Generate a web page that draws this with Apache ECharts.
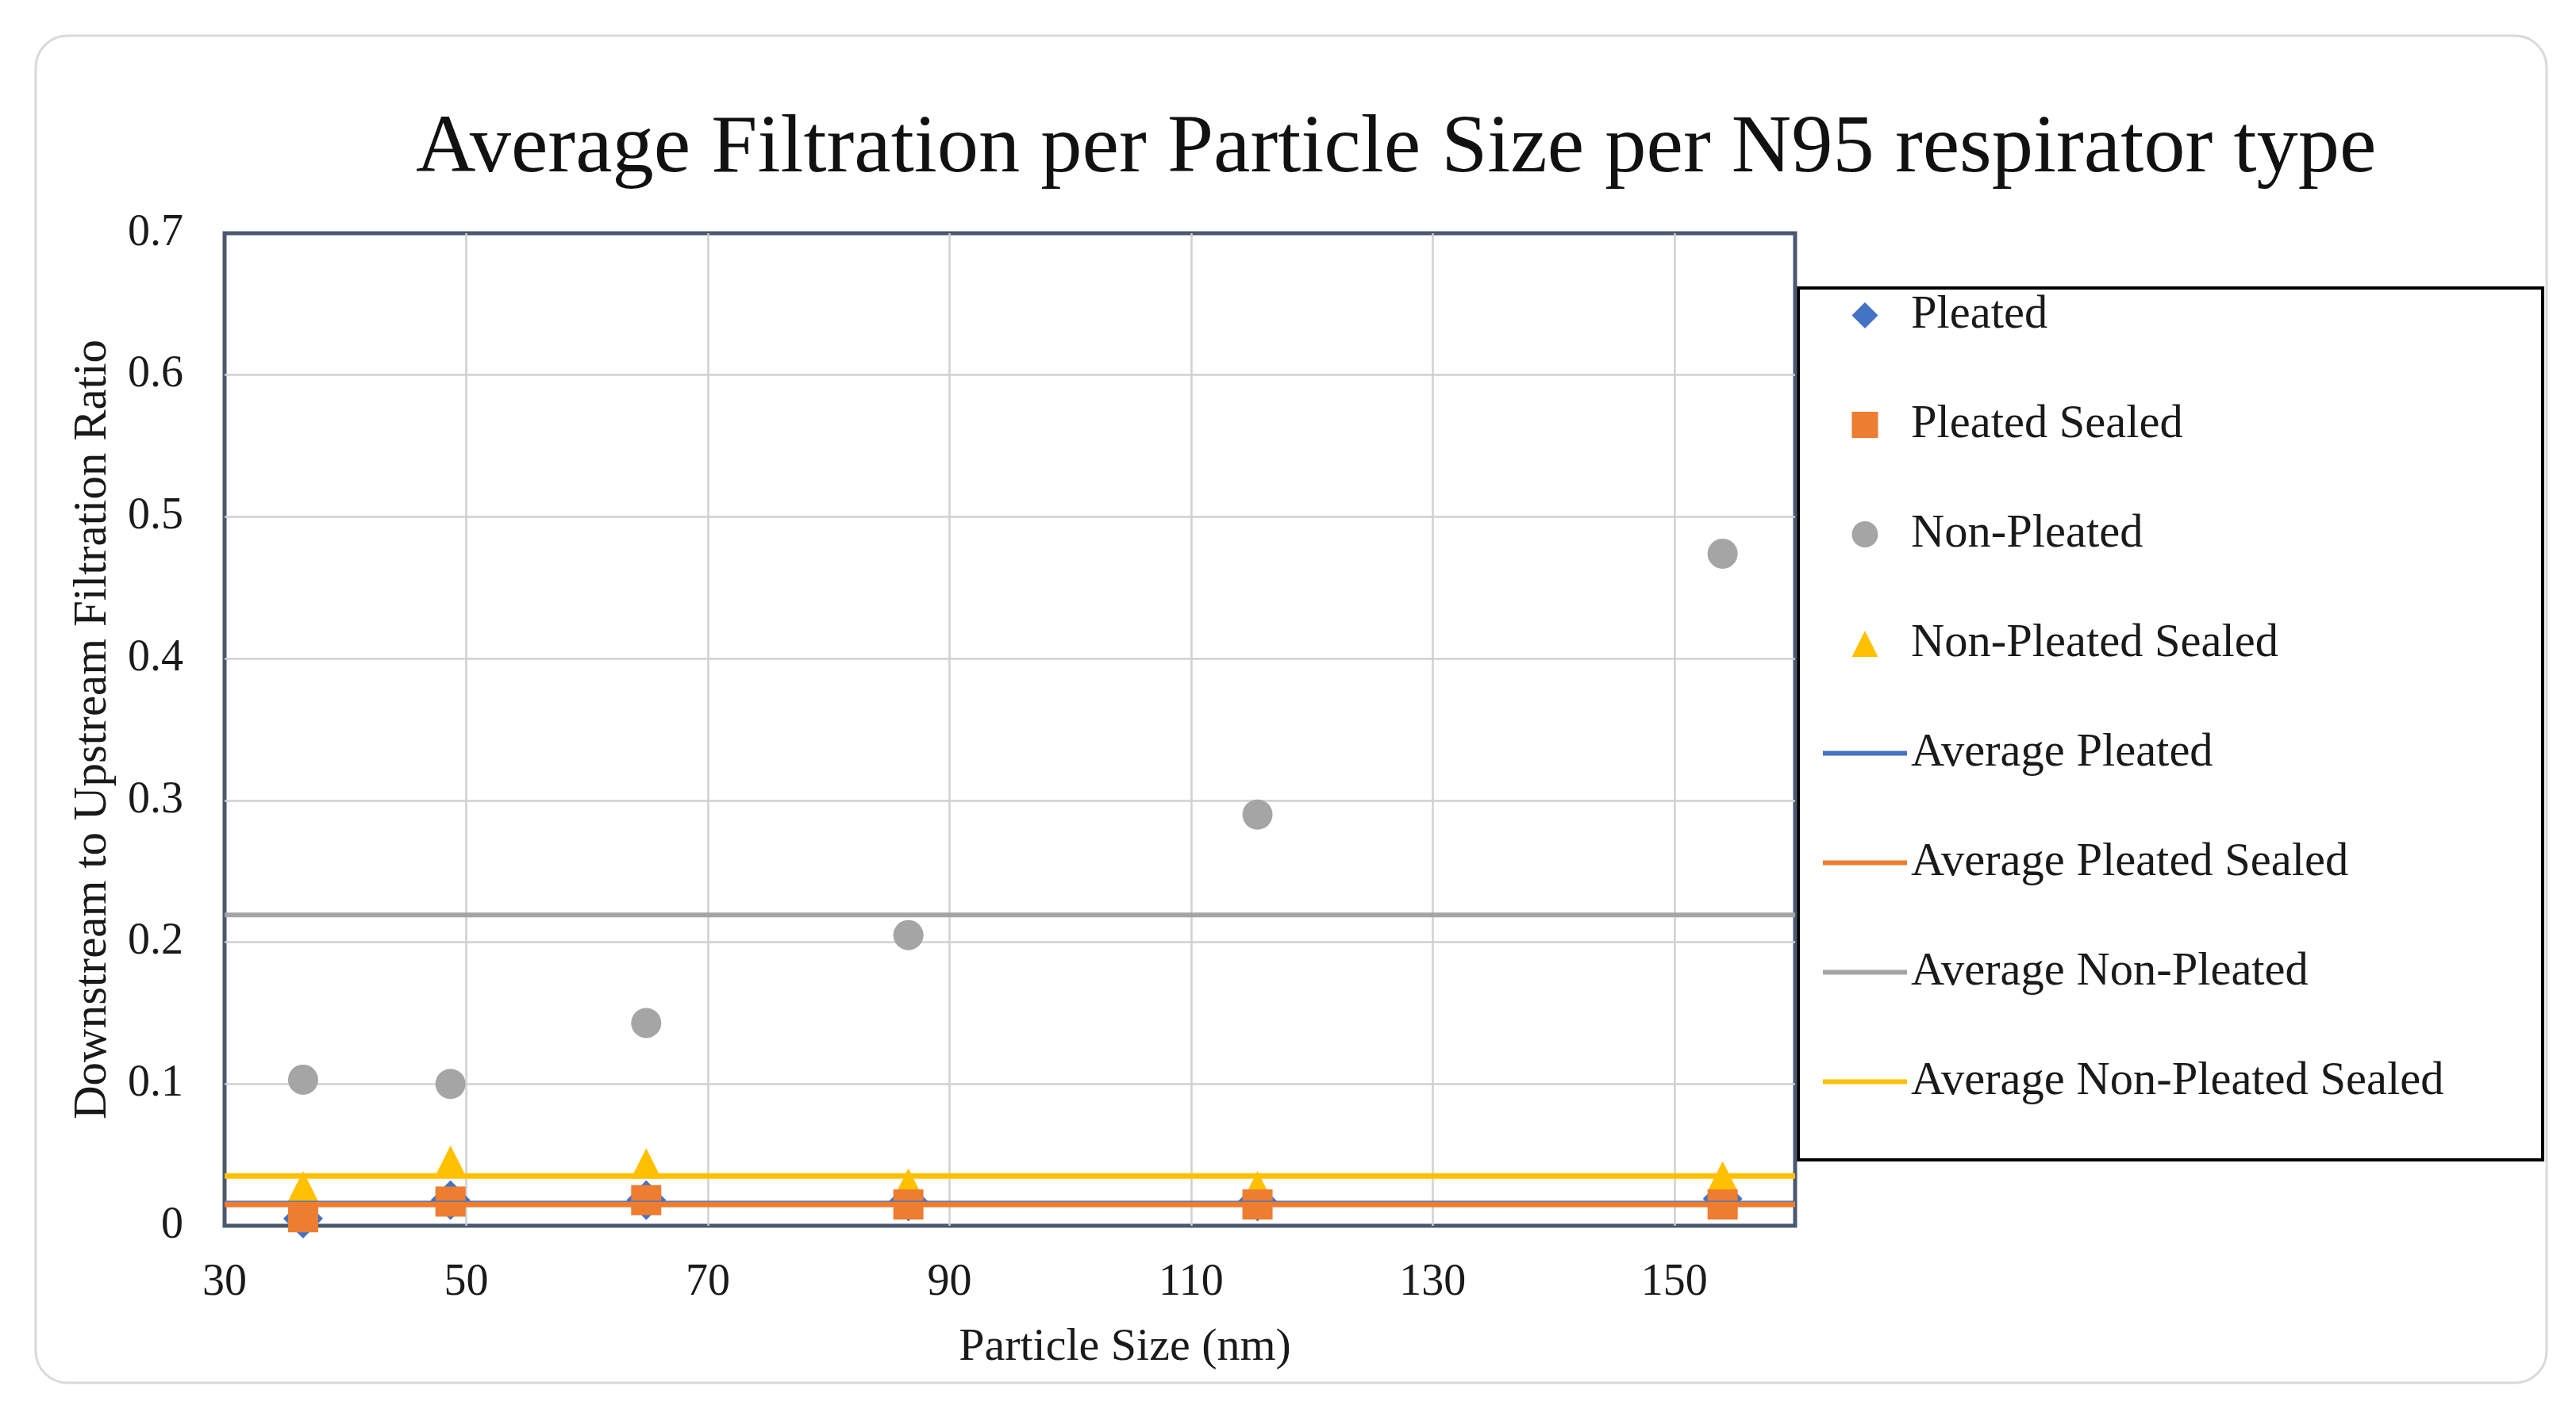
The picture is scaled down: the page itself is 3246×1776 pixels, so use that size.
<!DOCTYPE html>
<html>
<head>
<meta charset="utf-8">
<script src="https://cdn.jsdelivr.net/npm/echarts@6/dist/echarts.min.js"></script>
<style>
html,body{margin:0;padding:0;background:#fff;}
#chart{width:3246px;height:1776px;}
</style>
</head>
<body>
<div id="chart"></div>
<script>
// ---- data ----
const particleSizes = [36.5, 48.7, 64.9, 86.6, 115.5, 154.0];
const pleated = [0.005, 0.018, 0.018, 0.017, 0.017, 0.019];
const pleatedSealed = [0.006, 0.017, 0.018, 0.015, 0.015, 0.015];
const nonPleated = [0.103, 0.100, 0.143, 0.205, 0.290, 0.474];
const nonPleatedSealed = [0.028, 0.046, 0.044, 0.030, 0.028, 0.035];
const scatterNames = ['Pleated', 'Pleated Sealed', 'Non-Pleated', 'Non-Pleated Sealed'];
const averageNames = ['Average Pleated', 'Average Pleated Sealed', 'Average Non-Pleated', 'Average Non-Pleated Sealed'];
const averageValues = [0.0157, 0.0149, 0.2192, 0.0351];
const xExtent = [30, 160];
const yExtent = [0, 0.7];

const FONT = "'Liberation Serif', 'DejaVu Serif', serif";
const colors = {blue:'#4472C4', orange:'#ED7D31', gray:'#A5A5A5', yellow:'#FFC000'};
const scatterColors = [colors.blue, colors.orange, colors.gray, colors.yellow];
const scatterSymbols = ['diamond', 'rect', 'circle', 'triangle'];
const scatterSizes = [50, 38, 38, 38];
const scatterLegendIcons = [
  'path://M0,-1L1,0L0,1L-1,0Z',
  'path://M0,0H1V1H0Z',
  'path://M1,0A1,1,0,1,1,-1,0A1,1,0,1,1,1,0Z',
  'path://M0,0L1,2L-1,2Z'
];
const lineColors = [colors.blue, colors.orange, colors.gray, colors.yellow];
const lineWidths = [7, 7, 6, 7];
const scatterData = [pleated, pleatedSealed, nonPleated, nonPleatedSealed];

function pairs(xs, ys){ return xs.map((x,i)=>[x, ys[i]]); }
function flat(v){ return [[xExtent[0], v],[xExtent[1], v]]; }

const chart = echarts.init(document.getElementById('chart'), null, {renderer:'canvas'});

const legendData = scatterNames.map((n,i)=>({name:n, icon:scatterLegendIcons[i], itemStyle:{color:scatterColors[i], borderWidth:0, opacity:1}}))
  .concat(averageNames.map((n,i)=>({name:n, icon:'path://M0,0H106V6H0Z', itemStyle:{color:lineColors[i], borderWidth:0, opacity:1}})));

const option = {
  backgroundColor:'#ffffff',
  animation:false,
  title:{
    text:'Average Filtration per Particle Size per N95 respirator type',
    left:524, top:136, textAlign:'left', padding:0,
    textStyle:{fontFamily:FONT, fontSize:104.5, fontWeight:'normal', color:'#111', lineHeight:106}
  },
  graphic:[
    {type:'rect', shape:{x:45, y:45, width:3164, height:1698, r:40}, style:{fill:'none', stroke:'#D9D9D9', lineWidth:3}, z:-1},
    {type:'rect', shape:{x:2266, y:363, width:938, height:1099}, style:{fill:'#fff', stroke:'#000', lineWidth:4}, z:-1}
  ],
  legend:{
    orient:'vertical', left:2297, top:368, padding:0,
    itemWidth:106, itemHeight:33, itemGap:79, symbolKeepAspect:true,
    textStyle:{fontFamily:FONT, fontSize:58.5, lineHeight:58, color:'#1a1a1a'},
    data:legendData
  },
  grid:{left:283, top:294, width:1979, height:1251, show:true, borderColor:'#4A5870', borderWidth:5, backgroundColor:'#fff'},
  xAxis:{
    type:'value', min:xExtent[0], max:xExtent[1], interval:20,
    name:'Particle Size (nm)', nameLocation:'middle', nameGap:125,
    nameTextStyle:{fontFamily:FONT, fontSize:58, color:'#1a1a1a', padding:[0,0,0,290]},
    axisLine:{show:false}, axisTick:{show:false},
    axisLabel:{fontFamily:FONT, fontSize:56, color:'#1a1a1a', margin:44, showMaxLabel:false},
    splitLine:{show:true, showMinLine:false, showMaxLine:false, lineStyle:{color:'#D0D0D0', width:2.5}}
  },
  yAxis:{
    type:'value', min:yExtent[0], max:yExtent[1], interval:0.1,
    name:'Downstream to Upstream Filtration Ratio', nameLocation:'middle', nameGap:136,
    nameTextStyle:{fontFamily:FONT, fontSize:59, color:'#1a1a1a'},
    axisLine:{show:false}, axisTick:{show:false},
    axisLabel:{fontFamily:FONT, fontSize:56, color:'#1a1a1a', margin:52},
    splitLine:{show:true, showMinLine:false, showMaxLine:false, lineStyle:{color:'#D0D0D0', width:2.5}}
  },
  series:scatterNames.map((n,i)=>({
    name:n, type:'scatter', symbol:scatterSymbols[i], symbolSize:scatterSizes[i],
    itemStyle:{color:scatterColors[i], opacity:1}, data:pairs(particleSizes, scatterData[i]), z:(i===1?4:3)
  })).concat(averageNames.map((n,i)=>({
    name:n, type:'line', symbol:'none', showSymbol:false, silent:true, z:5,
    lineStyle:{color:lineColors[i], width:lineWidths[i]}, itemStyle:{color:lineColors[i]},
    data:flat(averageValues[i])
  })))
};
chart.setOption(option);
</script>
</body>
</html>
